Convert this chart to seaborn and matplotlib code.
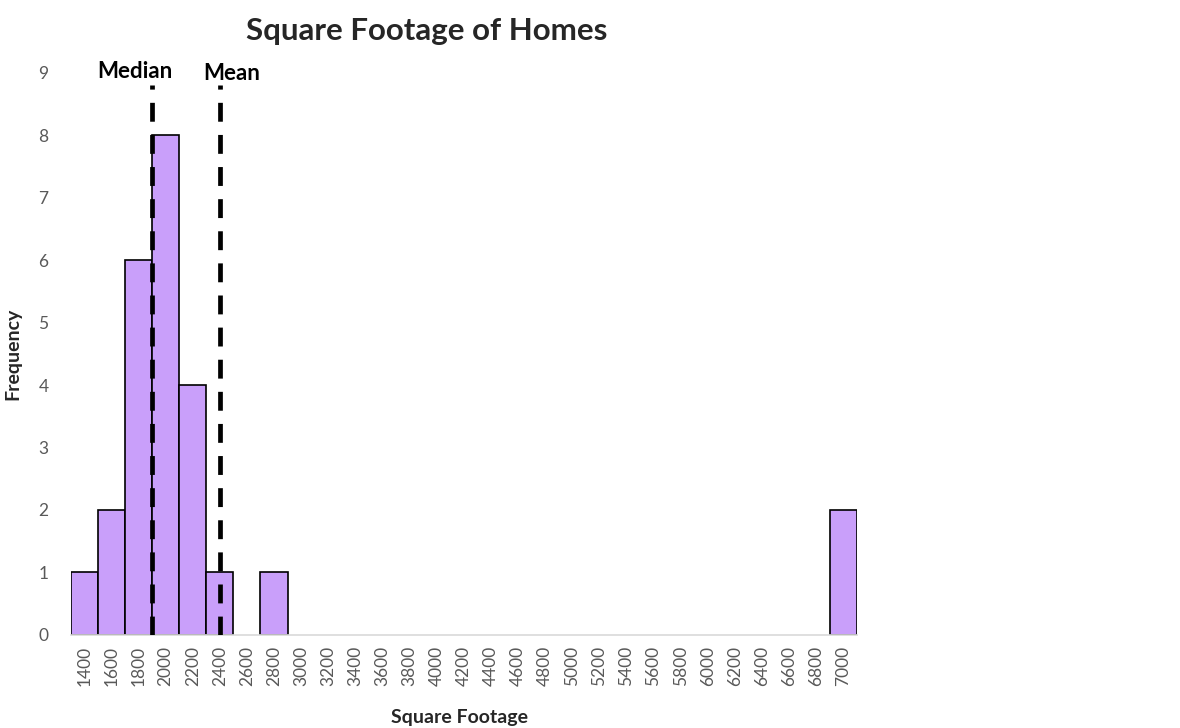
import matplotlib
matplotlib.use("Agg")
import matplotlib.pyplot as plt
import seaborn as sns

# bin centres (square footage) and how many homes fall in each
sq_ft = [1400, 1600, 1800, 2000, 2200, 2400, 2600, 2800, 3000, 3200, 3400,
         3600, 3800, 4000, 4200, 4400, 4600, 4800, 5000, 5200, 5400, 5600,
         5800, 6000, 6200, 6400, 6600, 6800, 7000]
counts = [1, 2, 6, 8, 4, 1, 0, 1, 0, 0, 0,
          0, 0, 0, 0, 0, 0, 0, 0, 0, 0, 0,
          0, 0, 0, 0, 0, 0, 2]
median_val = 1900
mean_val = 2400
y_ticks = list(range(0, 10))

sns.set_style("white")
plt.rcParams["font.family"] = ["Lato", "DejaVu Sans"]

fig = plt.figure(figsize=(11.8, 7.28), dpi=100)
ax = fig.add_axes([0.060, 0.128, 0.666, 0.772])

sns.histplot(
    x=sq_ft,
    weights=counts,
    binwidth=200,
    binrange=(1300, 7100),
    color="#c99ffa",
    edgecolor="black",
    linewidth=1.2,
    alpha=1,
    ax=ax,
)
# hide empty bins so the baseline stays grey
for p in ax.patches:
    if p.get_height() == 0:
        p.set_visible(False)

ax.set_xlim(1300, 7100)
ax.set_ylim(0, 9)

# median / mean reference lines
for val in [median_val, mean_val]:
    ax.vlines(val, 0, 8.8, colors="black", linewidth=3.4,
              linestyles=(0, (4, 2.8)), zorder=5)
ax.text(median_val - 125, 9.02, "Median", ha="center", va="center",
        fontsize=16, fontweight="bold", color="black")
ax.text(mean_val + 90, 8.99, "Mean", ha="center", va="center",
        fontsize=16, fontweight="bold", color="black")

ax.set_xticks(sq_ft)
ax.set_xticklabels([str(v) for v in sq_ft], rotation=90, fontsize=12.5,
                   color="#595959")
ax.set_yticks(y_ticks)
ax.set_yticklabels([str(v) for v in y_ticks], fontsize=12.5, color="#595959")
ax.tick_params(axis="both", length=0)
ax.tick_params(axis="y", pad=16)
ax.tick_params(axis="x", pad=8)

sns.despine(ax=ax, left=True)
ax.spines["bottom"].set_color("#d9d9d9")
ax.spines["bottom"].set_linewidth(1.2)

ax.set_xlabel("Square Footage", fontsize=14, fontweight="bold")
ax.set_ylabel("Frequency", fontsize=14, fontweight="bold")
ax.xaxis.set_label_coords(0.495, -0.132)
ax.yaxis.set_label_coords(-0.063, 0.5)

fig.text(0.362, 0.958, "Square Footage of Homes", ha="center", va="center",
         fontsize=22.5, fontweight="bold", color="#262626")

fig.savefig("out.png", dpi=100, facecolor="white")
